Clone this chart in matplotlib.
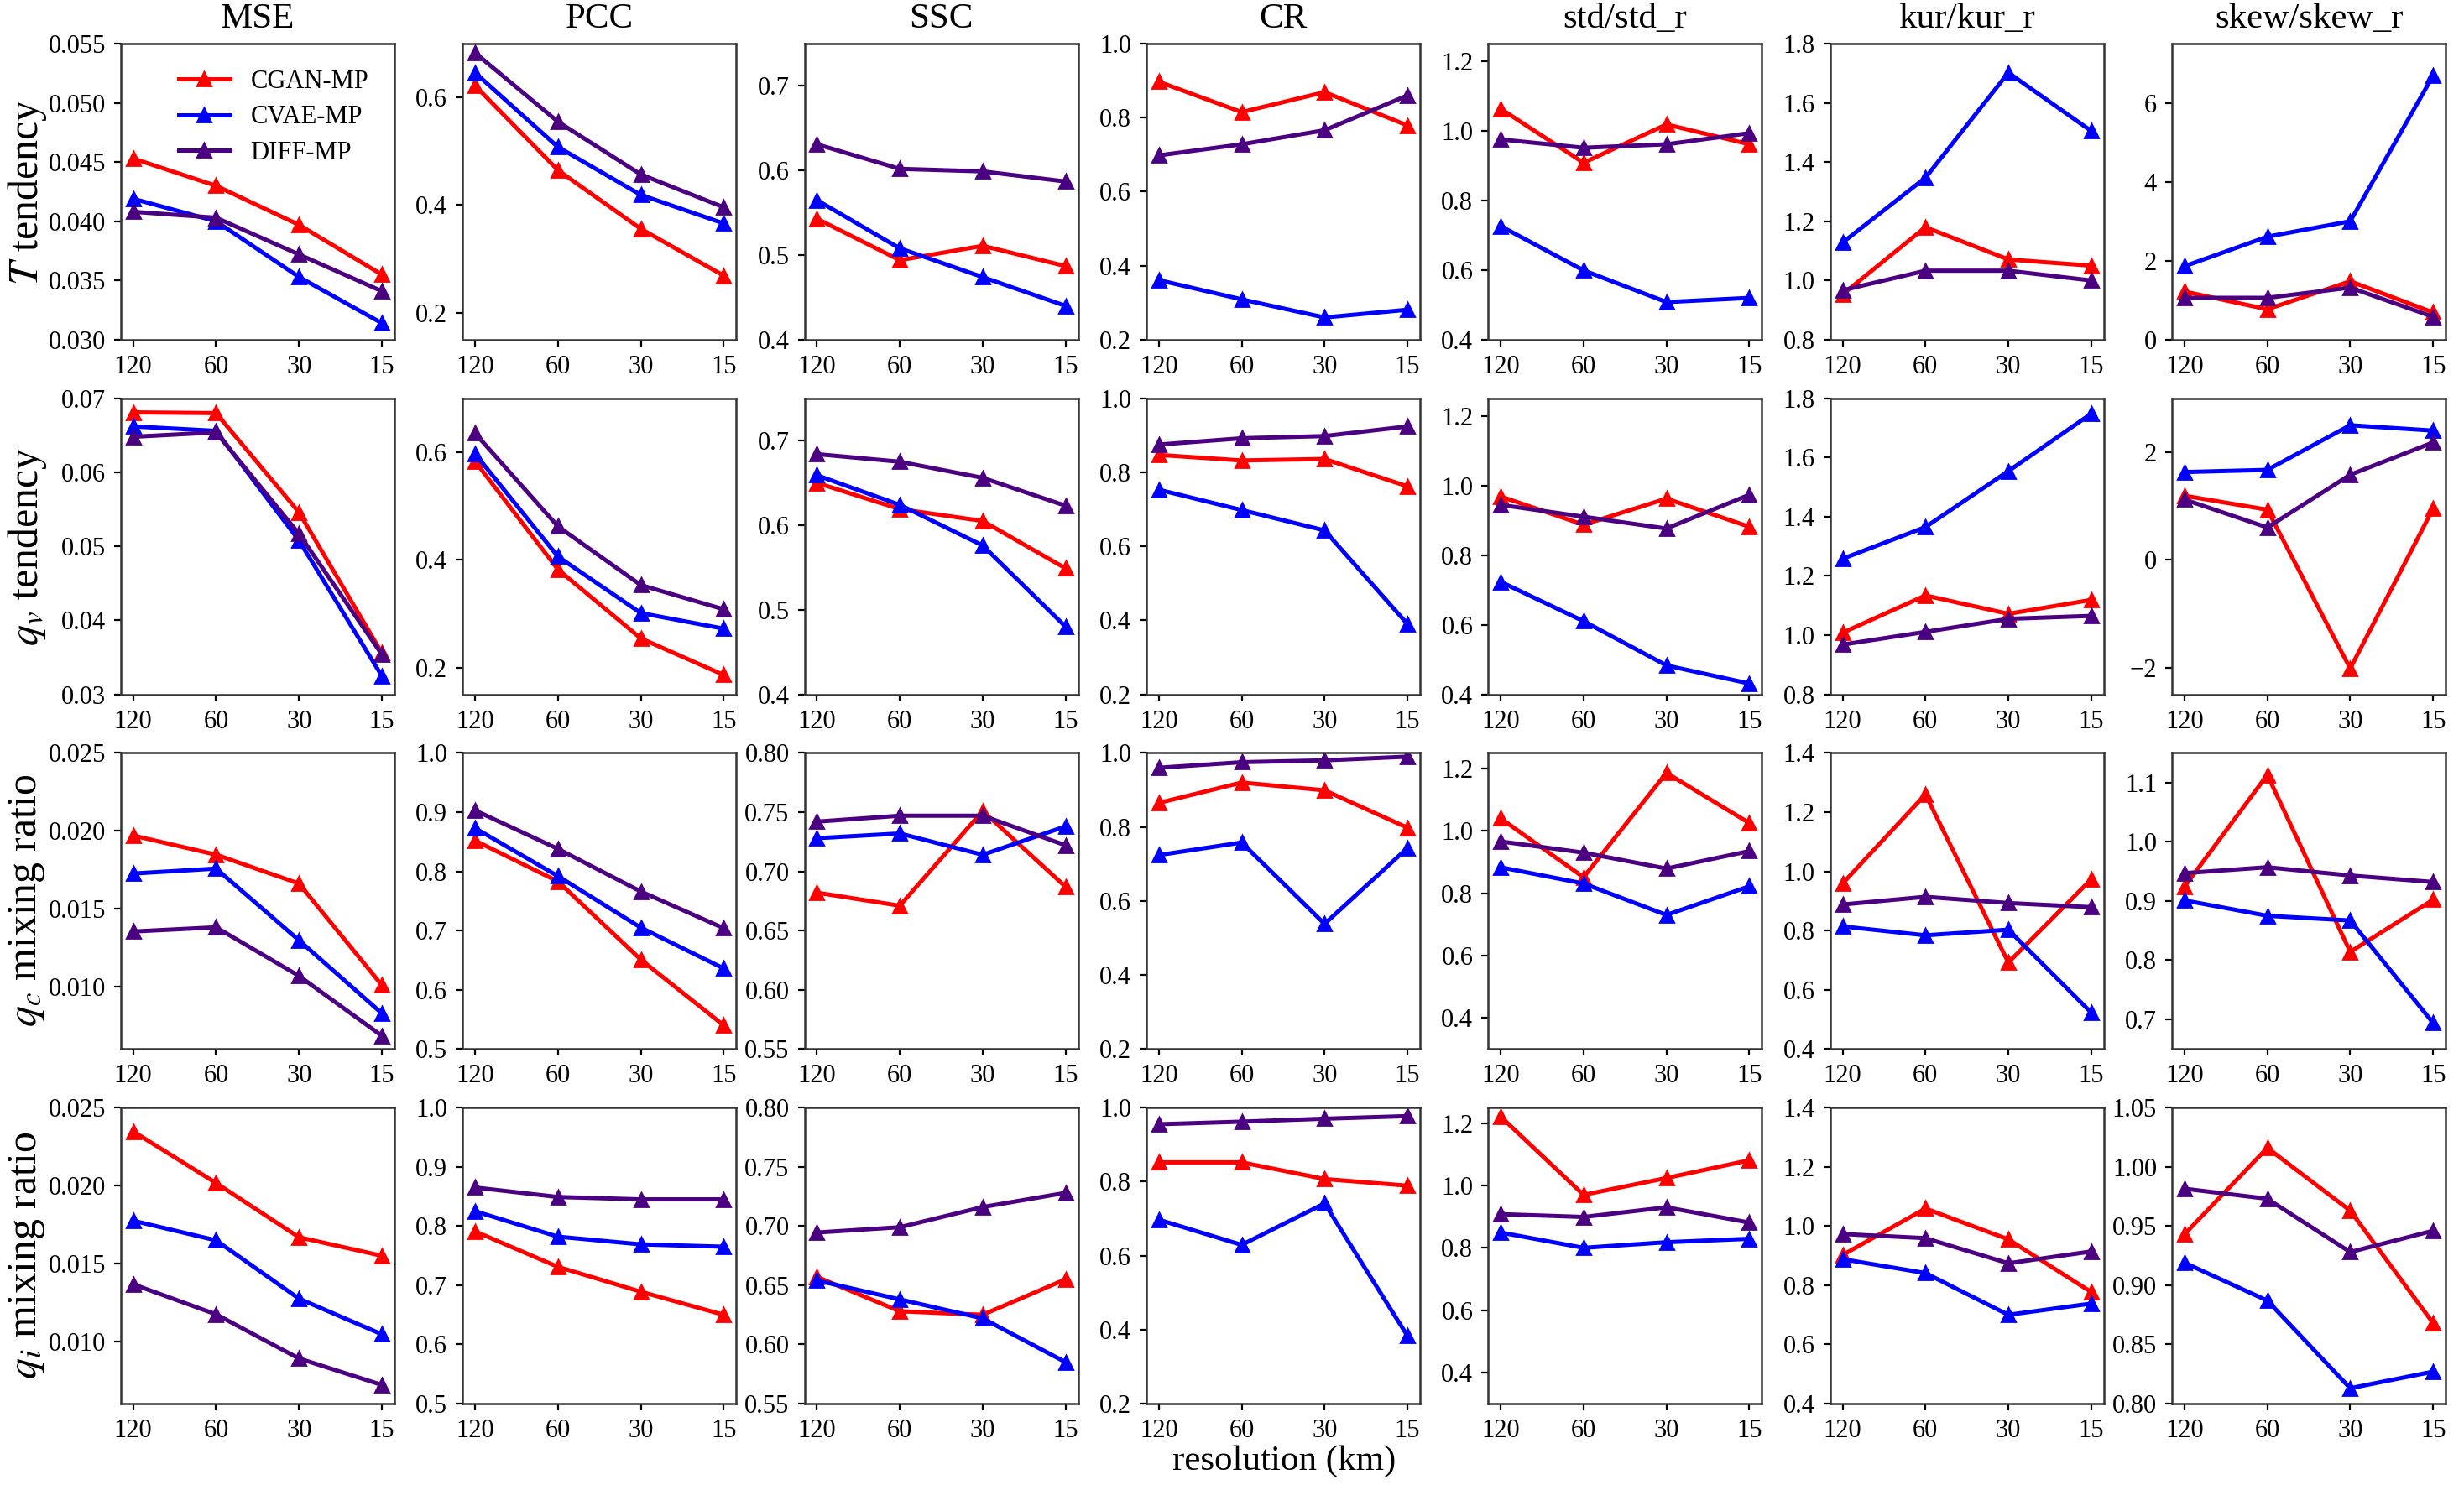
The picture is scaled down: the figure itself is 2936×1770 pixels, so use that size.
import matplotlib
matplotlib.use("Agg")
import matplotlib.pyplot as plt

plt.rcParams['font.family'] = ['Liberation Serif', 'DejaVu Serif']
plt.rcParams['mathtext.fontset'] = 'stix'

resolutions = ['120', '60', '30', '15']
metrics = ['MSE', 'PCC', 'SSC', 'CR', 'std/std_r', 'kur/kur_r', 'skew/skew_r']
row_labels = [r'$T$ tendency', r'$q_v$ tendency', r'$q_c$ mixing ratio', r'$q_i$ mixing ratio']
models = ['CGAN-MP', 'CVAE-MP', 'DIFF-MP']
colors = ['#ff0000', '#0000ff', '#4b0082']

# each list: one row of panels (MSE, PCC, SSC, CR, std, kur, skew), values at 120/60/30/15 km
cgan_T = [[0.0453, 0.0430, 0.0397, 0.0355], [0.622, 0.465, 0.356, 0.269], [0.543, 0.494, 0.511, 0.487],
          [0.897, 0.815, 0.869, 0.779], [1.063, 0.908, 1.018, 0.961], [0.953, 1.180, 1.071, 1.050],
          [1.22, 0.77, 1.48, 0.69]]
cvae_T = [[0.0419, 0.0400, 0.0353, 0.0314], [0.646, 0.508, 0.419, 0.366], [0.565, 0.508, 0.474, 0.440],
          [0.361, 0.309, 0.260, 0.281], [0.726, 0.599, 0.508, 0.520], [1.128, 1.347, 1.702, 1.505],
          [1.86, 2.61, 3.00, 6.69]]
diff_T = [[0.0408, 0.0403, 0.0372, 0.0341], [0.683, 0.555, 0.457, 0.396], [0.631, 0.602, 0.599, 0.587],
          [0.698, 0.728, 0.766, 0.860], [0.975, 0.951, 0.961, 0.993], [0.967, 1.033, 1.033, 1.000],
          [1.06, 1.06, 1.32, 0.58]]

cgan_qv = [[0.0681, 0.0680, 0.0546, 0.0356], [0.583, 0.382, 0.254, 0.186], [0.650, 0.619, 0.605, 0.549],
           [0.847, 0.832, 0.836, 0.762], [0.968, 0.887, 0.962, 0.881], [1.008, 1.134, 1.072, 1.119],
           [1.19, 0.93, -2.02, 0.95]]
cvae_qv = [[0.0662, 0.0656, 0.0508, 0.0325], [0.597, 0.406, 0.301, 0.272], [0.659, 0.624, 0.576, 0.480],
           [0.753, 0.698, 0.643, 0.390], [0.723, 0.610, 0.483, 0.431], [1.258, 1.365, 1.554, 1.748],
           [1.63, 1.67, 2.50, 2.40]]
diff_qv = [[0.0648, 0.0654, 0.0517, 0.0354], [0.635, 0.462, 0.353, 0.308], [0.684, 0.675, 0.656, 0.623],
           [0.875, 0.892, 0.898, 0.924], [0.944, 0.910, 0.876, 0.973], [0.968, 1.011, 1.055, 1.065],
           [1.12, 0.60, 1.58, 2.18]]

cgan_qc = [[0.0197, 0.01847, 0.01662, 0.0101], [0.852, 0.783, 0.651, 0.540], [0.682, 0.671, 0.751, 0.687],
           [0.865, 0.920, 0.899, 0.798], [1.040, 0.851, 1.186, 1.025], [0.959, 1.260, 0.692, 0.973],
           [0.924, 1.113, 0.814, 0.902]]
cvae_qc = [[0.01726, 0.01758, 0.01298, 0.00829], [0.873, 0.792, 0.705, 0.636], [0.728, 0.732, 0.714, 0.738],
           [0.724, 0.758, 0.538, 0.743], [0.883, 0.831, 0.730, 0.822], [0.814, 0.784, 0.803, 0.523],
           [0.901, 0.875, 0.867, 0.694]]
diff_qc = [[0.01354, 0.01381, 0.01069, 0.00685], [0.903, 0.838, 0.766, 0.704], [0.742, 0.747, 0.747, 0.722],
           [0.960, 0.975, 0.980, 0.990], [0.966, 0.930, 0.879, 0.935], [0.888, 0.914, 0.893, 0.879],
           [0.947, 0.957, 0.943, 0.932]]

cgan_qi = [[0.02347, 0.02016, 0.01668, 0.01549], [0.791, 0.731, 0.689, 0.650], [0.657, 0.628, 0.625, 0.655],
           [0.852, 0.852, 0.807, 0.789], [1.221, 0.970, 1.024, 1.081], [0.902, 1.059, 0.955, 0.777],
           [0.943, 1.016, 0.963, 0.868]]
cvae_qi = [[0.01774, 0.01648, 0.01274, 0.01045], [0.825, 0.782, 0.769, 0.765], [0.654, 0.638, 0.622, 0.585],
           [0.697, 0.629, 0.741, 0.383], [0.849, 0.800, 0.818, 0.829], [0.888, 0.841, 0.700, 0.738],
           [0.919, 0.887, 0.813, 0.827]]
diff_qi = [[0.01366, 0.01173, 0.00890, 0.00720], [0.865, 0.849, 0.845, 0.845], [0.6945, 0.699, 0.716, 0.728],
           [0.955, 0.962, 0.970, 0.977], [0.908, 0.899, 0.930, 0.881], [0.973, 0.959, 0.874, 0.914],
           [0.9815, 0.973, 0.928, 0.946]]

# y-axis limits per row
ylims_T = [(0.030, 0.055), (0.15, 0.70), (0.40, 0.75), (0.2, 1.0), (0.40, 1.25), (0.8, 1.8), (0.0, 7.5)]
ylims_qv = [(0.030, 0.070), (0.15, 0.70), (0.40, 0.75), (0.2, 1.0), (0.40, 1.25), (0.8, 1.8), (-2.5, 3.0)]
ylims_qc = [(0.006, 0.025), (0.5, 1.0), (0.55, 0.80), (0.2, 1.0), (0.30, 1.25), (0.4, 1.4), (0.65, 1.15)]
ylims_qi = [(0.006, 0.025), (0.5, 1.0), (0.55, 0.80), (0.2, 1.0), (0.30, 1.25), (0.4, 1.4), (0.80, 1.05)]

# y tick labels per row
yticks_T = [['0.030', '0.035', '0.040', '0.045', '0.050', '0.055'], ['0.2', '0.4', '0.6'],
            ['0.4', '0.5', '0.6', '0.7'], ['0.2', '0.4', '0.6', '0.8', '1.0'],
            ['0.4', '0.6', '0.8', '1.0', '1.2'], ['0.8', '1.0', '1.2', '1.4', '1.6', '1.8'],
            ['0', '2', '4', '6']]
yticks_qv = [['0.03', '0.04', '0.05', '0.06', '0.07'], ['0.2', '0.4', '0.6'],
             ['0.4', '0.5', '0.6', '0.7'], ['0.2', '0.4', '0.6', '0.8', '1.0'],
             ['0.4', '0.6', '0.8', '1.0', '1.2'], ['0.8', '1.0', '1.2', '1.4', '1.6', '1.8'],
             ['-2', '0', '2']]
yticks_qc = [['0.010', '0.015', '0.020', '0.025'], ['0.5', '0.6', '0.7', '0.8', '0.9', '1.0'],
             ['0.55', '0.60', '0.65', '0.70', '0.75', '0.80'], ['0.2', '0.4', '0.6', '0.8', '1.0'],
             ['0.4', '0.6', '0.8', '1.0', '1.2'], ['0.4', '0.6', '0.8', '1.0', '1.2', '1.4'],
             ['0.7', '0.8', '0.9', '1.0', '1.1']]
yticks_qi = [['0.010', '0.015', '0.020', '0.025'], ['0.5', '0.6', '0.7', '0.8', '0.9', '1.0'],
             ['0.55', '0.60', '0.65', '0.70', '0.75', '0.80'], ['0.2', '0.4', '0.6', '0.8', '1.0'],
             ['0.4', '0.6', '0.8', '1.0', '1.2'], ['0.4', '0.6', '0.8', '1.0', '1.2', '1.4'],
             ['0.80', '0.85', '0.90', '0.95', '1.00', '1.05']]

rows = [
    ([cgan_T, cvae_T, diff_T], ylims_T, yticks_T),
    ([cgan_qv, cvae_qv, diff_qv], ylims_qv, yticks_qv),
    ([cgan_qc, cvae_qc, diff_qc], ylims_qc, yticks_qc),
    ([cgan_qi, cvae_qi, diff_qi], ylims_qi, yticks_qi),
]

fig, axes = plt.subplots(4, 7, figsize=(14.68, 8.85), dpi=200)
fig.subplots_adjust(left=0.049, right=0.9925, top=0.9706, bottom=0.0548, wspace=0.25, hspace=0.198)

x = list(range(len(resolutions)))
for r, (series, ylims, yticks) in enumerate(rows):
    for c in range(7):
        ax = axes[r, c]
        for m in range(3):
            ax.plot(x, series[m][c], color=colors[m], marker='^', markersize=6,
                    linewidth=1.8, label=models[m])
        ax.set_ylim(*ylims[c])
        ax.set_yticks([float(t) for t in yticks[c]])
        ax.set_yticklabels([t.replace('-', '\u2212') for t in yticks[c]])
        ax.set_xticks(x)
        ax.set_xticklabels(resolutions)
        ax.tick_params(labelsize=11, length=3, width=0.8)
        for s in ax.spines.values():
            s.set_linewidth(0.9)
            s.set_color('#333333')
        if r == 0:
            ax.set_title(metrics[c], fontsize=15.5, pad=7)
    pos = axes[r, 0].get_position()
    fig.text(0.011, (pos.y0 + pos.y1) / 2, row_labels[r], rotation=90,
             ha='center', va='center', fontsize=18)

axes[0, 0].legend(loc='upper right', frameon=False, fontsize=11, handlelength=2.0,
                  labelspacing=0.45, borderaxespad=0.6)

fig.text(0.521, 0.016, 'resolution (km)', ha='center', va='center', fontsize=15.5)

fig.savefig('out.png', dpi=200)
